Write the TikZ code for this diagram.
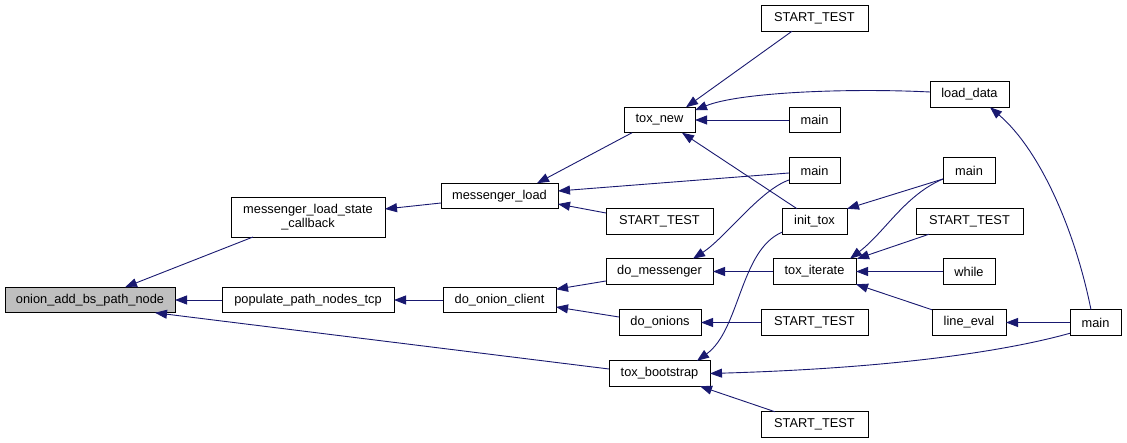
\documentclass[tikz,border=0pt]{standalone}
\usepackage{fontspec}
\setmainfont{Liberation Sans}
\usetikzlibrary{arrows.meta}
\definecolor{edgec}{RGB}{25,25,112}
\definecolor{grayfill}{RGB}{191,191,191}
\begin{document}
\begin{tikzpicture}[x=1pt,y=-1pt,
 box/.style={draw=black, line width=0.9pt, fill=white, inner sep=0pt, outer sep=0pt,
   minimum height=25.5pt, font=\fontsize{12.8}{14}\selectfont, align=center},
 e/.style={draw=edgec, line width=0.9pt, -{Triangle[length=12pt,width=9pt,fill=edgec]}},
]
\useasboundingbox (0,0) rectangle (1127,443);
% nodes
\node[box, fill=grayfill, minimum width=170pt] (A) at (90,300) {onion\_add\_bs\_path\_node};
\node[box, minimum width=154pt, minimum height=40pt] (B) at (308,217) {messenger\_load\_state\\\_callback};
\node[box, minimum width=172pt] (C) at (308,300) {populate\_path\_nodes\_tcp};
\node[box, minimum width=117pt] (D) at (499.5,196) {messenger\_load};
\node[box, minimum width=113pt] (E) at (499.5,300) {do\_onion\_client};
\node[box, minimum width=71pt] (F) at (659.5,120) {tox\_new};
\node[box, minimum width=107pt] (G) at (659.5,221.5) {START\_TEST};
\node[box, minimum width=107pt] (H) at (659.5,271.5) {do\_messenger};
\node[box, minimum width=82pt] (I) at (660,322.5) {do\_onions};
\node[box, minimum width=101pt] (J) at (659.5,373.5) {tox\_bootstrap};
\node[box, minimum width=107pt] (K) at (814.5,18.5) {START\_TEST};
\node[box, minimum width=51pt] (L) at (814.5,120) {main};
\node[box, minimum width=51pt] (M) at (814.5,170.5) {main};
\node[box, minimum width=65pt] (N) at (814.5,221.5) {init\_tox};
\node[box, minimum width=83pt] (O) at (814.5,271.5) {tox\_iterate};
\node[box, minimum width=107pt] (P) at (814.5,322.5) {START\_TEST};
\node[box, minimum width=107pt] (Q) at (814.5,424.5) {START\_TEST};
\node[box, minimum width=79pt] (R) at (969.5,94.5) {load\_data};
\node[box, minimum width=52pt] (S) at (969,170.5) {main};
\node[box, minimum width=107pt] (T) at (969.5,221.5) {START\_TEST};
\node[box, minimum width=52pt] (U) at (969,271.5) {while};
\node[box, minimum width=74pt] (V) at (969,322.5) {line\_eval};
\node[box, minimum width=51pt] (W) at (1095.5,322.5) {main};
% edges
\draw[e] ([xshift=22pt]B.south west) -- ([xshift=120pt]A.north west);
\draw[e] (C.west) -- (A.east);
\draw[e] ([yshift=4.5pt]J.west) -- ([xshift=-20pt]A.south east);
\draw[e] ([yshift=-7pt]D.west) -- ([yshift=8pt]B.east);
\draw[e] (E.west) -- (C.east);
\draw[e] ([xshift=8pt]F.south west) -- ([xshift=-21pt]D.north east);
\draw[e] ([yshift=-2.5pt]M.west) -- ([yshift=5pt]D.east);
\draw[e] ([yshift=8.5pt]G.west) -- ([yshift=-8pt]D.east);
\draw[e] ([xshift=31pt]K.south west) -- ([xshift=-9pt]F.north east);
\draw[e] ([yshift=2.5pt]R.west) .. controls (850,88) and (740,92) .. ([yshift=-3pt]F.north east);
\draw[e] (L.west) -- (F.east);
\draw[e] ([xshift=15pt]N.north west) -- ([xshift=-13pt]F.south east);
\draw[e] ([yshift=-8.5pt]S.west) -- (N.north east);
\draw[e] ([yshift=-9.5pt]M.west) .. controls (760,190) and (725,238) .. ([xshift=-20pt]H.north east);
\draw[e] ([yshift=-8.5pt]S.west) .. controls (905,195) and (885,232) .. ([xshift=-6pt]O.north east);
\draw[e] ([xshift=13pt]T.south west) -- ([xshift=1pt]O.north east);
\draw[e] (U.west) -- (O.east);
\draw[e] (V.north west) -- (O.south east);
\draw[e] (W.west) -- (V.east);
\draw[e] ([xshift=-4.5pt]W.north) .. controls (1075,230) and (1040,150) .. ([xshift=-19pt]R.south east);
\draw[e] ([yshift=2pt]W.south west) .. controls (1010,350) and (900,368) .. (J.east);
\draw[e] (P.west) -- (I.east);
\draw[e] (O.west) -- (H.east);
\draw[e] ([yshift=-9.5pt]H.west) -- ([yshift=-2pt]E.north east);
\draw[e] ([yshift=5.5pt]I.west) -- ([yshift=-7pt]E.east);
\draw[e] ([yshift=2pt]N.south west) .. controls (740,250) and (740,330) .. ([xshift=-13pt]J.north east);
\draw[e] ([xshift=14pt]Q.north west) -- ([xshift=-10pt]J.south east);
\end{tikzpicture}
\end{document}
